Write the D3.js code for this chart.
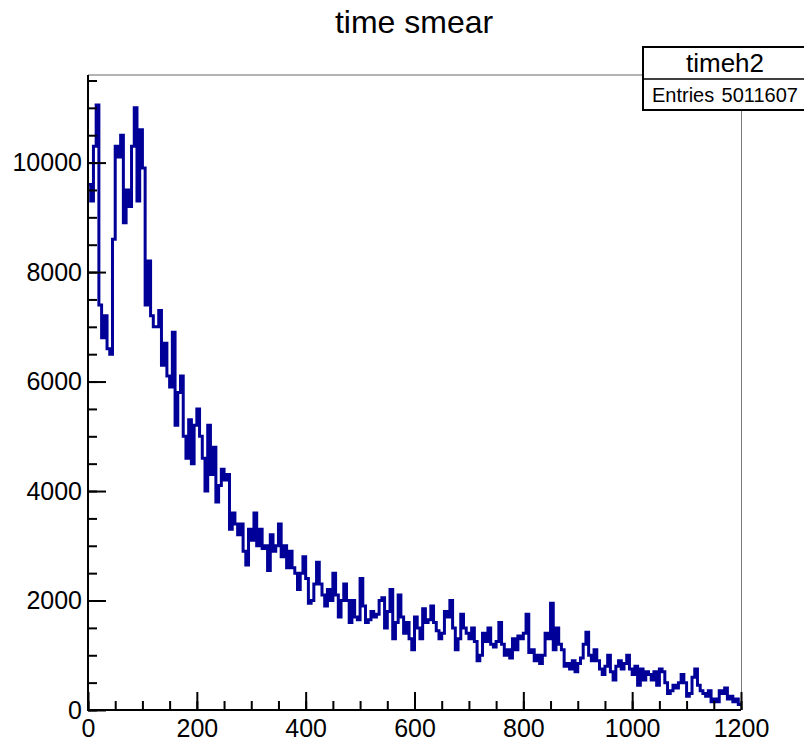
<!DOCTYPE html>
<html>
<head>
<meta charset="utf-8">
<script src="https://cdn.jsdelivr.net/npm/d3@7"></script>
<style>
  body { margin:0; background:#fff; }
  svg { display:block; font-family:"Liberation Sans", Arial, sans-serif; }
</style>
</head>
<body>
<svg width="804" height="742"></svg>
<script>
const svgWidth=804;
const svgHeight=742;

const margin={top:75, left:88, bottom:32, right:63};
const width=svgWidth-(margin.left+margin.right);
const height=svgHeight-(margin.top+margin.bottom);

// histogram "timeh2", bins of 5 from 0 to 1200
const binWidth=5;
const counts=[
  9600,9300,10300,11050,7400,6800,7200,6600,6500,8600,
  10300,10100,10500,8900,9500,9200,10300,11000,9300,10600,
  9900,7400,8200,7200,7000,7000,7300,6300,6700,6100,
  5900,6900,5200,5800,6100,5000,4600,5300,4500,5200,
  5500,5000,4600,4000,5200,4300,4800,3800,4100,4400,
  4200,4300,3300,3600,3400,3200,3400,2900,2650,3300,
  3100,3600,3000,3300,2950,3000,2550,3200,2900,3000,
  3400,2800,3000,2600,2900,2600,2500,2200,2500,2800,
  2400,1950,2000,2300,2700,2300,2100,1900,2200,2000,
  2500,2100,1700,2000,2300,2000,1600,2000,1700,1650,
  2400,1900,1600,1650,1800,1700,1750,2000,2050,1500,
  1800,2200,1300,1600,2100,1700,1400,1600,1300,1100,
  1700,1500,1300,1850,1600,1650,1900,1600,1450,1300,
  1400,1800,1700,2000,1500,1100,1300,1750,1500,1400,
  1300,1500,1250,900,1000,1400,1250,1500,1200,1150,
  1250,1600,1200,1000,1100,950,1300,1100,1350,1300,
  1400,1750,1050,1100,900,1000,850,1000,1400,1300,
  1950,1100,1500,1200,1100,800,850,750,900,700,
  850,950,1200,1420,1000,900,1100,900,750,650,
  800,1000,700,550,800,900,750,850,1000,750,
  650,800,450,750,550,700,650,550,700,450,
  750,700,500,300,350,450,400,500,650,500,
  250,300,600,750,450,350,300,250,350,150,
  200,150,350,300,400,200,250,150,200,100
];

const xTicks=[0,200,400,600,800,1000,1200];
const xMinor=d3.range(0,1201,50);
const yTicks=[0,2000,4000,6000,8000,10000];
const yMinor=d3.range(0,11501,500);

const titleText="time smear";
const histName="timeh2";
const entries="5011607";

const xScale=d3.scaleLinear().domain([0,1200]).range([0,width]);
const yScale=d3.scaleLinear().domain([0,11600]).range([height,0]);

const svg=d3.select("svg");

svg.append("text")
  .text(titleText)
  .attr("x",414)
  .attr("y",33)
  .attr("text-anchor","middle")
  .style("font-size","32px");

const g=svg.append("g")
  .attr("transform",`translate(${margin.left},${margin.top})`);

// frame (top and right, grey)
g.append("line")
  .attr("x1",0).attr("x2",643-margin.left)
  .attr("y1",0).attr("y2",0)
  .style("stroke","#999").style("stroke-width",1.5);
g.append("line")
  .attr("x1",width+0.5).attr("x2",width+0.5)
  .attr("y1",0).attr("y2",height)
  .style("stroke","#777").style("stroke-width",1);

// histogram line
const pts=counts.map((c,i)=>[i*binWidth,c]);
pts.push([1200,counts[counts.length-1]]);

const line=d3.line()
  .x(d=>xScale(d[0]))
  .y(d=>yScale(d[1]))
  .curve(d3.curveStepAfter);

g.append("path")
  .datum(pts)
  .attr("d",line)
  .style("fill","none")
  .style("stroke","#000099")
  .style("stroke-width",3)
  .style("stroke-linejoin","miter");

// minor ticks
g.append("g")
  .call(d3.axisLeft(yScale).tickValues(yMinor).tickSizeInner(-9).tickSizeOuter(0).tickFormat(""))
  .call(s=>s.select(".domain").remove())
  .selectAll("line").style("stroke-width",2);

g.append("g")
  .attr("transform",`translate(0,${height})`)
  .call(d3.axisBottom(xScale).tickValues(xMinor).tickSizeInner(-9).tickSizeOuter(0).tickFormat(""))
  .call(s=>s.select(".domain").remove())
  .selectAll("line").style("stroke-width",2);

// major axes
const yAx=g.append("g")
  .attr("class","yAxis")
  .call(d3.axisLeft(yScale).tickValues(yTicks).tickSizeInner(-18).tickSizeOuter(0).tickPadding(6).tickFormat(d=>d));
yAx.selectAll("line").style("stroke-width",2);
yAx.selectAll("text").style("font-size","25px").style("font-family","Liberation Sans, Arial, sans-serif");
yAx.select(".domain").remove();

const xAx=g.append("g")
  .attr("class","xAxis")
  .attr("transform",`translate(0,${height})`)
  .call(d3.axisBottom(xScale).tickValues(xTicks).tickSizeInner(-18).tickSizeOuter(0).tickPadding(9).tickFormat(d=>d));
xAx.selectAll("line").style("stroke-width",2);
xAx.selectAll("text").style("font-size","25px").style("font-family","Liberation Sans, Arial, sans-serif");
xAx.select(".domain").remove();

g.append("line")
  .attr("x1",0).attr("x2",0).attr("y1",0).attr("y2",height+1)
  .style("stroke","#000").style("stroke-width",2);
g.append("line")
  .attr("x1",-1).attr("x2",width).attr("y1",height).attr("y2",height)
  .style("stroke","#000").style("stroke-width",2);

// stats box
const stats=svg.append("g").attr("class","stats");
stats.append("rect")
  .attr("x",643).attr("y",47)
  .attr("width",170).attr("height",63)
  .style("fill","#fff").style("stroke","#000").style("stroke-width",2);
stats.append("line")
  .attr("x1",643).attr("x2",810).attr("y1",79).attr("y2",79)
  .style("stroke","#000").style("stroke-width",1.5);
stats.append("text")
  .text(histName)
  .attr("x",725).attr("y",72)
  .attr("text-anchor","middle")
  .style("font-size","26px");
stats.append("text")
  .text("Entries")
  .attr("x",652).attr("y",102)
  .style("font-size","20px");
stats.append("text")
  .text(entries)
  .attr("x",798).attr("y",102)
  .attr("text-anchor","end")
  .style("font-size","20px");
</script>
</body>
</html>
